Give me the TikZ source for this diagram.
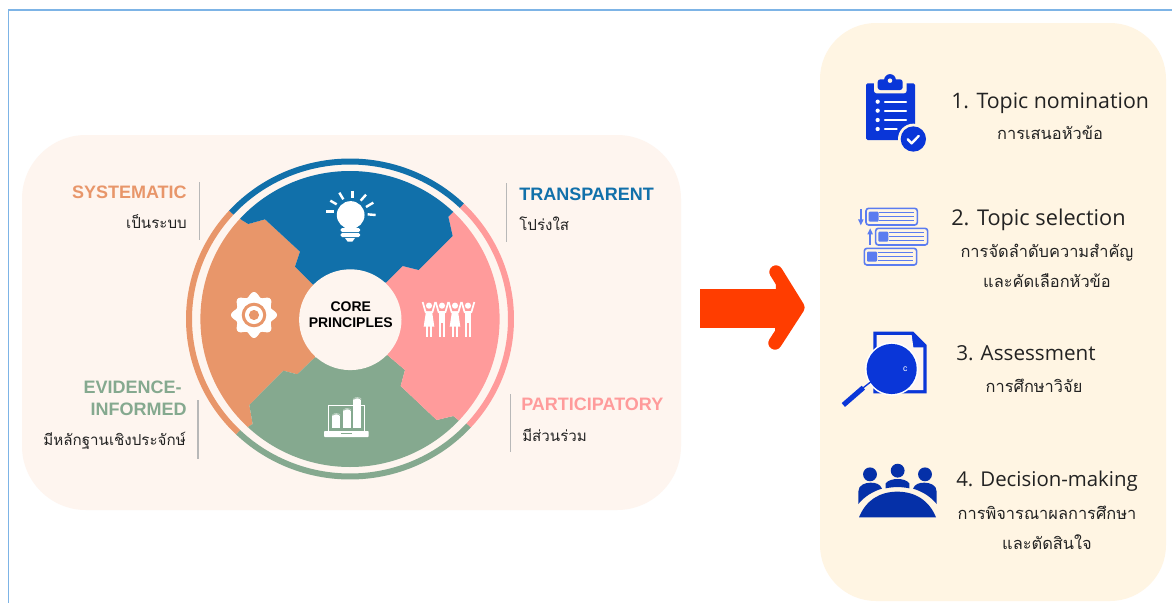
\documentclass[tikz,border=0pt]{standalone}
\usepackage{fontspec}
\setmainfont{Liberation Sans}
\newfontfamily\thaifont[Script=Thai]{Loma}
\newfontfamily\stepfont{Open Sans}
\definecolor{panelL}{HTML}{FEF5EF}
\definecolor{panelR}{HTML}{FFF5E3}
\definecolor{cblue}{HTML}{1170AA}
\definecolor{cpink}{HTML}{FF9B9B}
\definecolor{cgreen}{HTML}{85A98F}
\definecolor{corange}{HTML}{E8966A}
\definecolor{frameblue}{HTML}{7DB4E6}
\definecolor{iconA}{HTML}{0A36D8}
\definecolor{iconB}{HTML}{5B7CF0}
\definecolor{iconD}{HTML}{0530A8}
\definecolor{arrowred}{HTML}{FF3D00}
\definecolor{ink}{HTML}{222222}
\tikzset{
  head/.style={font=\bfseries\fontsize{13.5pt}{15pt}\selectfont,inner sep=0pt},
  thl/.style={font=\thaifont\fontsize{11.35pt}{14pt}\selectfont,text=ink,inner sep=0pt},
  steptitle/.style={font=\stepfont\fontsize{#1}{18pt}\selectfont,text=ink,inner sep=0pt,anchor=base west},
  stepthai/.style={font=\thaifont\fontsize{12.3pt}{14pt}\selectfont,text=ink,inner sep=0pt,anchor=base},
  rule/.style={draw=black!28,line width=.8pt},
  ring/.style={line width=4.5pt,line cap=butt},
  wl/.style={draw=white,line cap=butt},
}
\newcommand{\ringarc}[3]{\draw[ring,#1] plot[domain=#2:#3,samples=60] ({350+161*cos(\x)},{319-157.5*sin(\x)});}
\begin{document}
\begin{tikzpicture}[x=.75pt,y=-.75pt]
\useasboundingbox (0,0) rectangle (1172,603);
\fill[white] (0,0) rectangle (1172,603);
\draw[frameblue,line width=1pt] (8.5,603) -- (8.5,10) -- (1172,10);
\fill[panelL,rounded corners=48pt] (22,135) rectangle (681,510);
\fill[panelR,rounded corners=42pt] (820,23) rectangle (1166,601);

% ring
\ringarc{corange}{137.5}{226}
\ringarc{cgreen}{226}{317.5}
\ringarc{cpink}{-42.5}{46}
\ringarc{cblue}{46}{137.5}

% segments
\begin{scope}
\clip (350,319) ellipse[x radius=112.2pt,y radius=111pt];
\begin{scope}[shift={(180,150)},x=.25pt,y=-.25pt]
\fill[corange] (400,405)--(345,350)--(360,305)--(255,208)--(205,222)--(185,210)--(100,125)--(-100,500)--(100,940)--(205,830)--(218,822)--(208,765)--(310,662)--(352,673)--(405,622)--cycle;
\fill[cgreen] (405,622)--(352,673)--(310,662)--(208,765)--(218,822)--(205,830)--(100,940)--(510,1150)--(930,940)--(835,810)--(820,798)--(770,810)--(662,708)--(675,660)--(622,615)--cycle;
\fill[cpink] (622,615)--(675,660)--(662,708)--(770,810)--(820,798)--(835,810)--(930,940)--(1150,500)--(950,60)--(818,187)--(805,200)--(818,258)--(716,360)--(668,348)--(618,398)--cycle;
\fill[cblue] (400,405)--(345,350)--(360,305)--(255,208)--(205,222)--(185,210)--(100,125)--(510,-150)--(950,60)--(818,187)--(805,200)--(818,258)--(716,360)--(668,348)--(618,398)--cycle;
\end{scope}
\end{scope}
\fill[panelL] (350.3,319.7) ellipse[x radius=38.4pt,y radius=37.8pt];
\node[font=\bfseries\fontsize{10.5pt}{12pt}\selectfont,inner sep=0pt,anchor=base] (core) at (350.8,311) {CORE};
\node[font=\bfseries\fontsize{10.5pt}{12pt}\selectfont,inner sep=0pt,anchor=base] (princ) at (350.8,327) {PRINCIPLES};

% wheel icons, in the coordinates of a 3x enlargement
\begin{scope}[shift={(180,150)},x=.25pt,y=-.25pt]
% bulb
\fill[white] (512,195) circle[radius=10.4pt];
\fill[white] (480,205)--(544,205)--(532,232)--(492,232)--cycle;
\fill[white,rounded corners=1pt] (482,234) rectangle (540,246);
\fill[white,rounded corners=1pt] (482,249) rectangle (540,261);
\fill[white] (495,264) -- (525,264) -- (517,275) -- (503,275) -- cycle;
\foreach \a/\b/\c/\d in {518/122/518/144, 478/128/490/148, 558/134/542/152, 451/152/470/163, 580/158/558/171, 438/185/462/185, 587/195/563/193}
  \draw[wl,line width=1.8pt] (\a,\b) -- (\c,\d);
% gear
\fill[white] plot[domain=0:360,samples=120] ({222+62*cos(\x)+7*cos(8*\x)*cos(\x)},{495+62*sin(\x)+7*cos(8*\x)*sin(\x)}) -- cycle;
\fill[corange] (222,495) circle[radius=9.2pt];
\fill[white] (222,495) circle[radius=6.8pt];
\fill[corange] (222,495) circle[radius=3.8pt];
% people
\foreach \px/\dress in {747/1,786/0,825/1,864/0}{
  \fill[white] (\px,467) circle[radius=2.3pt];
  \draw[wl,line width=1.3pt,line join=round] (\px-19,456) -- (\px-10,487) -- (\px+10,487) -- (\px+19,456);
  \ifnum\dress=1
    \fill[white] (\px-9,484) -- (\px+9,484) -- (\px+16,530) -- (\px-16,530) -- cycle;
    \fill[white] (\px-8,528) rectangle (\px-2,562);
    \fill[white] (\px+2,528) rectangle (\px+8,562);
  \else
    \fill[white] (\px-10,484) rectangle (\px+10,520);
    \fill[white] (\px-10,518) rectangle (\px-2,562);
    \fill[white] (\px+2,518) rectangle (\px+10,562);
  \fi
}
% laptop
\draw[white,line width=.9pt] (445,845) -- (445,767) -- (553,767) -- (553,845);
\fill[white,rounded corners=.6pt] (432,843) rectangle (566,861);
\fill[cgreen] (483,848) rectangle (515,852);
\fill[white] (457,795) rectangle (481,835);
\fill[white] (469,795) ellipse[x radius=3pt,y radius=1.2pt];
\fill[white] (490,780) rectangle (513,835);
\fill[white] (501.5,780) ellipse[x radius=2.9pt,y radius=1.2pt];
\fill[white] (520,747) rectangle (544,835);
\fill[white] (532,747) ellipse[x radius=3pt,y radius=1.2pt];
\draw[cgreen,line width=.4pt] (458,797) arc[start angle=180,end angle=360,x radius=11,y radius=5];
\draw[cgreen,line width=.4pt] (491,782) arc[start angle=180,end angle=360,x radius=11,y radius=5];
\draw[cgreen,line width=.4pt] (521,749) arc[start angle=180,end angle=360,x radius=11,y radius=5];
\end{scope}

% wheel labels
\draw[rule] (199.5,182) -- (199.5,240);
\node[head,text=corange,anchor=base east] (sys) at (187,198) {SYSTEMATIC};
\node[thl,anchor=base east] (systh) at (187,228) {เป็นระบบ};
\draw[rule] (198,400) -- (198,459);
\node[head,text=cgreen,anchor=base east] (ev1) at (182,393) {EVIDENCE-};
\node[head,text=cgreen,anchor=base east] (ev2) at (187,415) {INFORMED};
\node[thl,anchor=base east] (evth) at (186,445) {มีหลักฐานเชิงประจักษ์};
\draw[rule] (506.5,183) -- (506.5,242);
\node[head,text=cblue,anchor=base west] (tr) at (519,200) {TRANSPARENT};
\node[thl,anchor=base west] (trth) at (519,230) {โปร่งใส};
\draw[rule] (510.5,394) -- (510.5,452);
\node[head,text=cpink,anchor=base west] (pa) at (521,410) {PARTICIPATORY};
\node[thl,anchor=base west] (path) at (522,441) {มีส่วนร่วม};

% arrow
\fill[arrowred] (700,288.5) rectangle (785,328);
\fill[arrowred] (776,272) -- (798,307.5) -- (775,343) -- cycle;
\draw[arrowred,line width=10pt,line cap=round,line join=round] (776,272) -- (798,307.5) -- (775,343);

% step 1 and 2 icons
\begin{scope}[shift={(830,60)},x=.25pt,y=-.25pt]
\fill[iconA,rounded corners=1.2pt] (108,70) rectangle (255,240);
\fill[panelR,rounded corners=2pt] (132,60) rectangle (230,100);
\fill[iconA,rounded corners=2pt] (143,58) rectangle (218,90);
\fill[iconA] (180,60) circle[radius=4.4pt];
\fill[panelR] (180,62) circle[radius=1.7pt];
\foreach \ly in {125,152,180,207}{
  \fill[white] (143,\ly) circle[radius=1.6pt];
}
\foreach \ly/\lx in {125/228,152/228,180/228,207/200}{
  \draw[white,line width=1.7pt,line cap=round] (165,\ly) -- (\lx,\ly);
}
\fill[panelR] (250,237) circle[radius=11.5pt];
\fill[iconA] (250,237) circle[radius=9.5pt];
\draw[white,line width=1.8pt,line cap=round,line join=round] (233,238) -- (245,250) -- (266,228);
% list icon
\foreach \bx/\by/\bw in {108/445/154,137/505/156,103/565/157}{
  \draw[iconB,line width=1.2pt,rounded corners=2pt] (\bx,\by) rectangle ++(\bw,50);
  \fill[iconB,rounded corners=.8pt] (\bx+8,\by+10) rectangle ++(30,30);
  \foreach \o in {13,25,37}
    \draw[iconB,line width=.8pt] (\bx+40,\by+\o) -- (\bx+\bw-10,\by+\o);
}
\fill[iconB] (90,447) rectangle (95,482);
\fill[iconB] (84,478) -- (101,478) -- (92.5,496) -- cycle;
\fill[iconB] (118,520) rectangle (123,556);
\fill[iconB] (112,523) -- (129,523) -- (120.5,505) -- cycle;
\end{scope}

% step 3 and 4 icons
\begin{scope}[shift={(830,320)},x=.25pt,y=-.25pt]
\fill[iconA] (130,35) -- (250,35) -- (290,75) -- (290,220) -- (130,220) -- cycle;
\fill[panelL] (140,45) -- (245,45) -- (250,82) -- (280,82) -- (280,210) -- (140,210) -- cycle;
\fill[white] (185,147) circle[radius=20pt];
\fill[iconA] (185,147) circle[radius=18.8pt];
\node[text=white,inner sep=0pt,font=\fontsize{6.5pt}{7pt}\selectfont] (cmark) at (226,147) {c};
\draw[iconA,line width=1pt] (123,185) -- (95,207);
\draw[iconA,line width=3.8pt] (100,203) -- (40,255);
% people at a table
\fill[iconD] (87,592) .. controls (108,540) and (150,515) .. (202,515) .. controls (254,515) and (297,540) .. (318,592) -- cycle;
\foreach \hx/\hy in {120/463,203/452,285/463}
  \fill[iconD] (\hx,\hy) circle[radius=5.2pt];
\fill[iconD] (85,552) -- (85,515) .. controls (85,495) and (105,488) .. (122,488) .. controls (138,488) and (150,492) .. (156,506) .. controls (128,514) and (103,530) .. (85,552) -- cycle;
\fill[iconD] (320,552) -- (320,515) .. controls (320,495) and (300,488) .. (283,488) .. controls (267,488) and (255,492) .. (249,506) .. controls (277,514) and (302,530) .. (320,552) -- cycle;
\fill[iconD] (167,505) -- (167,490) .. controls (175,480) and (190,477) .. (203,477) .. controls (216,477) and (230,480) .. (238,490) -- (238,505) .. controls (215,500) and (190,500) .. (167,505) -- cycle;
\end{scope}

% step labels
\node[steptitle=16pt] (s1) at (951,108) {1. Topic nomination};
\node[stepthai] (s1a) at (1050,139) {การเสนอหัวข้อ};
\node[steptitle=16.3pt] (s2) at (951,225) {2. Topic selection};
\node[stepthai] (s2a) at (1047,257) {การจัดลำดับความสำคัญ};
\node[stepthai] (s2b) at (1047,287) {และคัดเลือกหัวข้อ};
\node[steptitle=15.5pt] (s3) at (956,360) {3. Assessment};
\node[stepthai] (s3a) at (1034,392) {การศึกษาวิจัย};
\node[steptitle=15.3pt] (s4) at (956,486) {4. Decision-making};
\node[stepthai] (s4a) at (1047,519) {การพิจารณาผลการศึกษา};
\node[stepthai] (s4b) at (1047,549) {และตัดสินใจ};
\end{tikzpicture}
\end{document}
